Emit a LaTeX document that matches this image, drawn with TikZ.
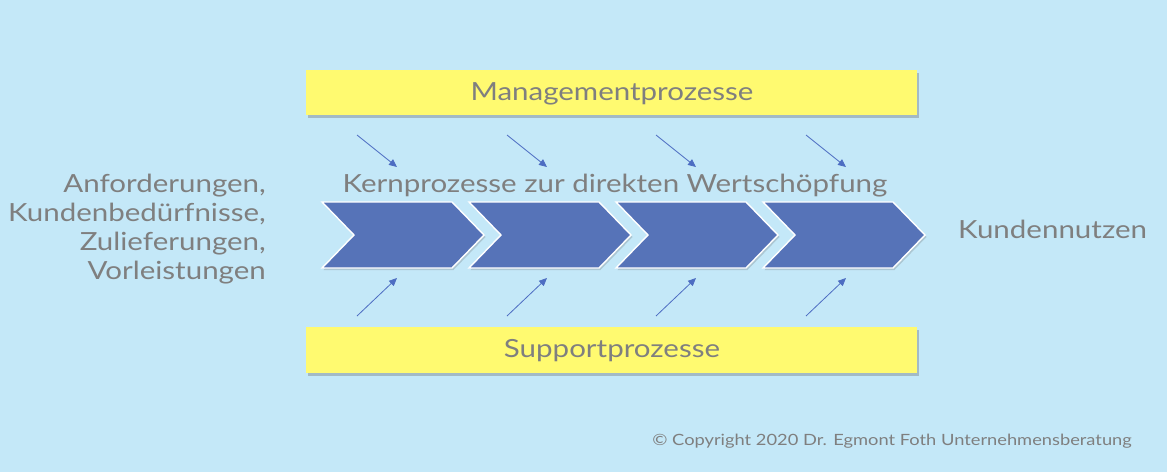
\documentclass[tikz,border=0pt]{standalone}
\usepackage{fontspec}
\setmainfont{Lato}[FakeStretch=1.18]
\usetikzlibrary{shadows,arrows.meta}
\definecolor{bg}{HTML}{C4E8F8}
\definecolor{yel}{HTML}{FFFA70}
\definecolor{chev}{HTML}{5673B8}
\definecolor{txt}{HTML}{7F7F7F}
\definecolor{arr}{HTML}{4D6DC2}
\tikzset{
  procbox/.style={fill=yel, drop shadow={shadow xshift=2pt, shadow yshift=-3pt, opacity=0.35, fill=black!60}},
  chevron/.style={fill=chev, draw=white, line width=1.4pt, drop shadow={shadow xshift=1.5pt, shadow yshift=-2pt, opacity=0.25, fill=black!60}},
  flow/.style={draw=arr, line width=0.8pt, -{Triangle[length=8pt,width=7pt]}},
  lbl/.style={text=txt, inner sep=0pt, font=\fontsize{25}{29}\selectfont}
}
\begin{document}
\begin{tikzpicture}[x=1pt,y=-1pt]
\useasboundingbox[fill=bg] (0,0) rectangle (1167,472);
% boxes
\path[procbox] (306,70) rectangle (917,115);
\node[lbl] (mgmt) at (612,94) {Managementprozesse};
\path[procbox] (306,327) rectangle (917,373);
\node[lbl] (supp) at (612,351) {Supportprozesse};
% chevrons
\foreach \x in {322,469,616,763}{
  \path[chevron] (\x,202) -- (\x+130,202) -- (\x+162,235) -- (\x+130,268) -- (\x,268) -- (\x+32,235) -- cycle;
}
\node[lbl] (kern) at (615,186) {Kernprozesse zur direkten Wertschöpfung};
\node[lbl, align=right, anchor=east] (input) at (266,229) {Anforderungen,\\Kundenbedürfnisse,\\Zulieferungen,\\Vorleistungen};
\node[lbl, anchor=west] (out) at (958,229) {Kundennutzen};
\node[text=txt, inner sep=0pt, font=\fontsize{15.5}{18}\selectfont, anchor=east] (copy) at (1132,441) {© Copyright 2020 Dr. Egmont Foth Unternehmensberatung};
% arrows
\foreach \i/\x in {1/357,2/507,3/656,4/806}{
  \coordinate (ts\i) at (\x,135);
  \coordinate (te\i) at (\x+40,167);
  \coordinate (bs\i) at (\x,316);
  \coordinate (be\i) at (\x+40,278);
  \draw[flow] (ts\i) -- (te\i);
  \draw[flow] (bs\i) -- (be\i);
}
\end{tikzpicture}
\end{document}
